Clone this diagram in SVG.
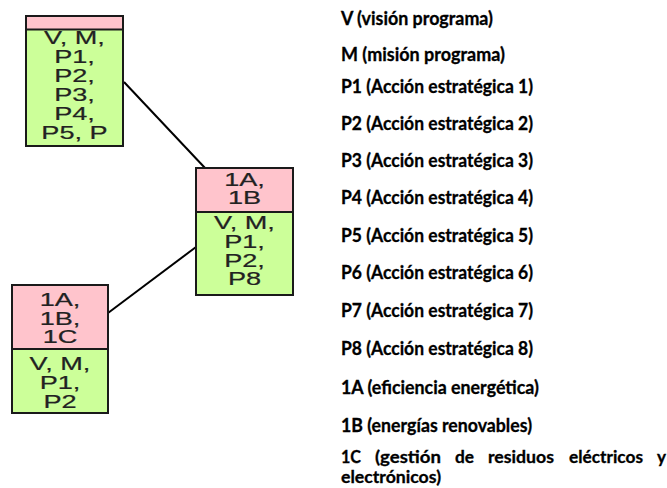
<svg xmlns="http://www.w3.org/2000/svg" width="667" height="488" viewBox="0 0 667 488">
<style>
.box{stroke:#1a1a1a;stroke-width:2}
.pink{fill:#ffc4cc}
.green{fill:#ccff99}
.div{stroke:#1a1a1a;stroke-width:2}
.nt{font-family:"Liberation Sans",Arial,sans-serif;font-size:17.5px;fill:#222;text-anchor:middle;stroke:#222;stroke-width:0.2}
.lg{font-family:Lato,"Open Sans",sans-serif;font-weight:bold;font-size:18px;fill:#000;stroke:#000;stroke-width:0.3}
.lg2{font-size:16.5px}
.conn{stroke:#000;stroke-width:2;fill:none}
</style>
<rect width="667" height="488" fill="#fff"/>
<g id="connectors">
<line class="conn" x1="124" y1="82" x2="205" y2="168"/>
<line class="conn" x1="108" y1="313" x2="196" y2="247"/>
</g>
<g id="node-top">
<rect class="green" x="26" y="16" width="97" height="130"/>
<rect class="pink" x="26" y="16" width="97" height="13.5"/>
<rect class="box" x="26" y="16" width="97" height="130" fill="none"/>
<line class="div" x1="26" y1="29.5" x2="123" y2="29.5"/>
<g transform="translate(74.5,0) scale(1.55,1)">
<text class="nt" x="0" y="44.5">V, M,</text>
<text class="nt" x="0" y="63.5">P1,</text>
<text class="nt" x="0" y="82.5">P2,</text>
<text class="nt" x="0" y="101.5">P3,</text>
<text class="nt" x="0" y="120.5">P4,</text>
<text class="nt" x="0" y="139.5">P5, P</text>
</g>
</g>
<g id="node-mid">
<rect class="green" x="196" y="168" width="97" height="127"/>
<rect class="pink" x="196" y="168" width="97" height="44"/>
<rect class="box" x="196" y="168" width="97" height="127" fill="none"/>
<line class="div" x1="196" y1="212" x2="293" y2="212"/>
<g transform="translate(244.5,0) scale(1.55,1)">
<text class="nt" x="0" y="186.5">1A,</text>
<text class="nt" x="0" y="204.5">1B</text>
<text class="nt" x="0" y="229">V, M,</text>
<text class="nt" x="0" y="248">P1,</text>
<text class="nt" x="0" y="267">P2,</text>
<text class="nt" x="0" y="285">P8</text>
</g>
</g>
<g id="node-bottom">
<rect class="green" x="12" y="285" width="96" height="128"/>
<rect class="pink" x="12" y="285" width="96" height="64"/>
<rect class="box" x="12" y="285" width="96" height="128" fill="none"/>
<line class="div" x1="12" y1="349" x2="108" y2="349"/>
<g transform="translate(60,0) scale(1.55,1)">
<text class="nt" x="0" y="306.5">1A,</text>
<text class="nt" x="0" y="325">1B,</text>
<text class="nt" x="0" y="343.5">1C</text>
<text class="nt" x="0" y="370">V, M,</text>
<text class="nt" x="0" y="389">P1,</text>
<text class="nt" x="0" y="408">P2</text>
</g>
</g>
<g id="legend">
<text class="lg" x="341" y="25" textLength="152" lengthAdjust="spacingAndGlyphs">V (visión programa)</text>
<text class="lg" x="341" y="61" textLength="164" lengthAdjust="spacingAndGlyphs">M (misión programa)</text>
<text class="lg" x="341" y="93" textLength="192" lengthAdjust="spacingAndGlyphs">P1 (Acción estratégica 1)</text>
<text class="lg" x="341" y="130" textLength="192" lengthAdjust="spacingAndGlyphs">P2 (Acción estratégica 2)</text>
<text class="lg" x="341" y="167" textLength="192" lengthAdjust="spacingAndGlyphs">P3 (Acción estratégica 3)</text>
<text class="lg" x="341" y="204" textLength="192" lengthAdjust="spacingAndGlyphs">P4 (Acción estratégica 4)</text>
<text class="lg" x="341" y="242" textLength="192" lengthAdjust="spacingAndGlyphs">P5 (Acción estratégica 5)</text>
<text class="lg" x="341" y="279" textLength="192" lengthAdjust="spacingAndGlyphs">P6 (Acción estratégica 6)</text>
<text class="lg" x="341" y="317" textLength="192" lengthAdjust="spacingAndGlyphs">P7 (Acción estratégica 7)</text>
<text class="lg" x="341" y="355" textLength="192" lengthAdjust="spacingAndGlyphs">P8 (Acción estratégica 8)</text>
<text class="lg" x="341" y="394" textLength="198" lengthAdjust="spacingAndGlyphs">1A (eficiencia energética)</text>
<text class="lg" x="341" y="432" textLength="191" lengthAdjust="spacingAndGlyphs">1B (energías renovables)</text>
<text class="lg lg2" y="463"><tspan x="341" textLength="20" lengthAdjust="spacingAndGlyphs">1C</tspan><tspan x="375" textLength="66" lengthAdjust="spacingAndGlyphs">(gestión</tspan><tspan x="455" textLength="19" lengthAdjust="spacingAndGlyphs">de</tspan><tspan x="488" textLength="66" lengthAdjust="spacingAndGlyphs">residuos</tspan><tspan x="569" textLength="74" lengthAdjust="spacingAndGlyphs">eléctricos</tspan><tspan x="657" textLength="9" lengthAdjust="spacingAndGlyphs">y</tspan></text>
<text class="lg lg2" x="341" y="483" textLength="100" lengthAdjust="spacingAndGlyphs">electrónicos)</text>
</g>
</svg>
